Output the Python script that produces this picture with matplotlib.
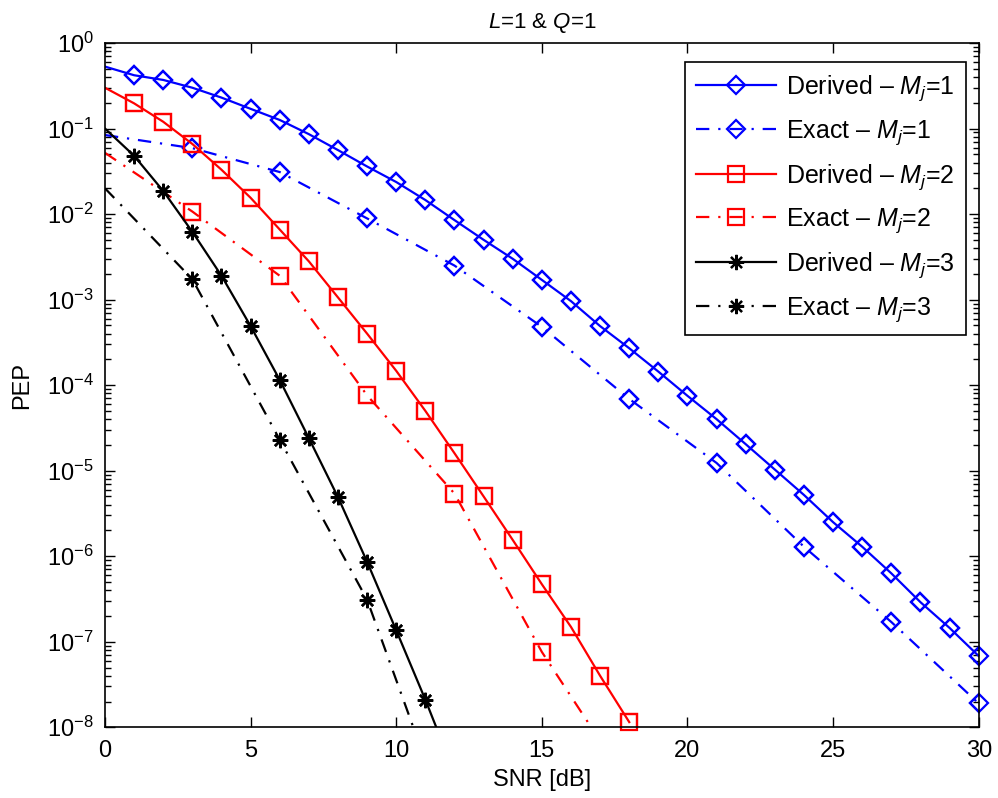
import numpy as np
import matplotlib
matplotlib.use("Agg")
from matplotlib import pyplot as plt
from matplotlib.ticker import FixedLocator, NullFormatter

plt.rcParams['font.family'] = ['Liberation Sans', 'DejaVu Sans']
plt.rcParams['mathtext.fontset'] = 'custom'
plt.rcParams['mathtext.rm'] = 'Liberation Sans'
plt.rcParams['mathtext.it'] = 'Liberation Sans:italic'
plt.rcParams['mathtext.default'] = 'regular'

# SNR grids
snr_derived_1 = list(range(0, 31))
snr_derived_2 = list(range(0, 19))
snr_derived_3 = list(range(0, 13))
snr_exact_1 = list(range(0, 31, 3))
snr_exact_2 = list(range(0, 19, 3))
snr_exact_3 = list(range(0, 13, 3))

# PEP values
pep_derived_1 = [0.53, 0.42, 0.37, 0.30, 0.23, 0.17, 0.126, 0.086, 0.056, 0.036,
                 0.0237, 0.0146, 0.0085, 0.005, 0.003, 0.0017, 9.6e-4, 4.9e-4, 2.7e-4,
                 1.44e-4, 7.5e-5, 4.0e-5, 2.04e-5, 1.03e-5, 5.2e-6, 2.5e-6, 1.29e-6,
                 6.3e-7, 2.9e-7, 1.45e-7, 6.8e-8]
pep_exact_1 = [0.084, 0.059, 0.031, 0.0089, 0.0025, 4.8e-4, 6.9e-5, 1.23e-5,
               1.29e-6, 1.7e-7, 1.9e-8]
pep_derived_2 = [0.30, 0.197, 0.12, 0.066, 0.033, 0.0155, 0.0066, 0.0028, 1.06e-3,
                 4.0e-4, 1.47e-4, 5.0e-5, 1.6e-5, 5.0e-6, 1.55e-6, 4.7e-7, 1.49e-7,
                 4.0e-8, 1.15e-8]
pep_exact_2 = [0.052, 0.0107, 0.0019, 7.6e-5, 5.4e-6, 7.6e-8, 2.1e-9]
pep_derived_3 = [0.1, 0.048, 0.0186, 0.0062, 0.0019, 4.9e-4, 1.15e-4, 2.4e-5,
                 4.9e-6, 8.6e-7, 1.36e-7, 2.1e-8, 2.9e-9]
pep_exact_3 = [0.02, 1.73e-3, 2.3e-5, 3.1e-7, 4.7e-10]

labels = ['Derived – $\\mathit{M_j}$=1', 'Exact – $\\mathit{M_j}$=1',
          'Derived – $\\mathit{M_j}$=2', 'Exact – $\\mathit{M_j}$=2',
          'Derived – $\\mathit{M_j}$=3', 'Exact – $\\mathit{M_j}$=3']

y_min, y_max = 1e-8, 1.0
dashdot = (0, (6, 4, 1, 4))
star = (8, 2, 0)

series = [
    (snr_derived_1, pep_derived_1, 'blue', '-', 'D', 9),
    (snr_exact_1, pep_exact_1, 'blue', dashdot, 'D', 9),
    (snr_derived_2, pep_derived_2, 'red', '-', 's', 12),
    (snr_exact_2, pep_exact_2, 'red', dashdot, 's', 12),
    (snr_derived_3, pep_derived_3, 'black', '-', star, 11),
    (snr_exact_3, pep_exact_3, 'black', dashdot, star, 11),
]

fig = plt.figure(figsize=(9.98, 7.98), dpi=100)
ax = fig.add_axes([0.1052, 0.0886, 0.8755, 0.8575])

for (x, y, col, ls, mk, ms), lab in zip(series, labels):
    ax.plot(x, y, color=col, ls=ls, lw=1.6, marker=mk, ms=ms, mfc='none', mew=1.6,
            markevery=slice(1, None), label=lab)
    # markers are not clipped at the axes edges (like MATLAB)
    pts = [(a, b) for a, b in zip(x[1:], y[1:]) if y_min <= b <= y_max]
    ax.plot([p[0] for p in pts], [p[1] for p in pts], ls='none', color=col, marker=mk,
            ms=ms, mfc='none', mew=1.6, clip_on=False)

ax.set_yscale('log')
ax.set_xlim(0, 30)
ax.set_ylim(y_min, y_max)
ax.xaxis.set_major_locator(FixedLocator([0, 5, 10, 15, 20, 25, 30]))
ax.yaxis.set_major_locator(FixedLocator(10.0 ** np.arange(-8, 1)))
ax.yaxis.set_minor_locator(FixedLocator([m * 10.0 ** e for e in range(-8, 0) for m in range(2, 10)]))
ax.yaxis.set_minor_formatter(NullFormatter())

ax.tick_params(which='both', direction='in', top=True, right=True, labelsize=17, width=1.0)
ax.tick_params(which='major', length=7)
ax.tick_params(axis='x', pad=9)
ax.tick_params(axis='y', pad=8)
ax.tick_params(which='minor', length=4)
for sp in ax.spines.values():
    sp.set_linewidth(1.2)

ax.set_xlabel('SNR [dB]', fontsize=17, labelpad=5)
ax.set_ylabel('PEP', fontsize=17, labelpad=10)
ax.set_title('$\\mathit{L}$=1 & $\\mathit{Q}$=1', fontsize=16, pad=11)

leg = ax.legend(loc='upper right', bbox_to_anchor=(0.9855, 0.972), borderaxespad=0,
                fontsize=18, handlelength=3.2, numpoints=1, labelspacing=0.6,
                fancybox=False, edgecolor='black', framealpha=1, borderpad=0.45,
                handletextpad=0.4)
leg.get_frame().set_linewidth(1.2)

plt.savefig('out.png', dpi=100)
